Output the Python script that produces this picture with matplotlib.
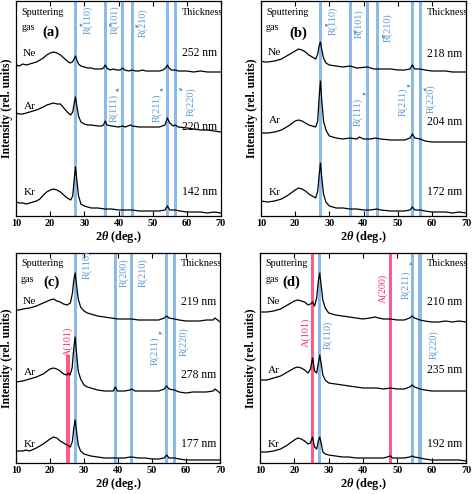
import matplotlib
matplotlib.use("Agg")
import matplotlib.pyplot as plt

plt.rcParams['font.family'] = ['Liberation Serif', 'DejaVu Serif']
plt.rcParams['mathtext.fontset'] = 'custom'
plt.rcParams['mathtext.it'] = 'Liberation Serif:italic:bold'
plt.rcParams['mathtext.rm'] = 'Liberation Serif:bold'

# peak positions (deg.)
R110, R101, R200, R111, R210, R211, R220 = 27.45, 36.1, 39.2, 41.25, 44.05, 54.3, 56.6
A101, A200 = 25.3, 48.05

gases = ["Ne", "Ar", "Kr"]
thick_a = ["252 nm", "220 nm", "142 nm"]
thick_b = ["218 nm", "204 nm", "172 nm"]
thick_c = ["219 nm", "278 nm", "177 nm"]
thick_d = ["210 nm", "235 nm", "192 nm"]

# curves: (2theta, intensity in offset units)
a_ne = [(10,151),(11,150),(12,152),(13,151),(14,152),(15,153),(16,154),(17,156),(18,158),(19,161),(20,163),(21,164),
        (22,163),(23,161),(24,158),(25,155),(25.8,153),(26.5,154),(27.0,157),(27.4,160),(27.8,156),(28.3,152),(29,150),
        (30,149),(31,148),(32,148),(33,147),(34,147),(35,147),(35.6,148),(36.1,151),(36.6,148),(37.5,146),(38.5,147),
        (39.5,146),(40.5,146),(41.2,148),(41.8,146),(43,145),(44,146),(45,145),(46,145),(47,146),(48,145),(50,145),
        (52,145),(53,146),(53.8,148),(54.3,151),(54.8,148),(55.5,146),(56.6,146),(57.5,145),(60,145),(62,144),
        (64,145),(66,144),(68,144),(70,144)]
a_ar = [(10,103),(11,102),(12,102),(13,103),(14,104),(16,106),(18,109),(19,111),(20,112),(21,113),(22,112),(23,112),
        (24,108),(25,104),(26,101),(26.6,104),(27.0,112),(27.4,119),(27.8,110),(28.3,100),(29,94),(30,92),(31,91),
        (32,91),(34,90),(35,90),(35.6,91),(36.1,95),(36.6,91),(38,90),(40,89),(41.2,90),(42,89),(43.5,91),(44,90),
        (46,89),(48,89),(50,89),(52,89),(53.6,91),(54.3,98),(55,93),(56,90),(56.6,91),(57.5,89),(60,88),(62,87),
        (64,86),(66,86),(68,85),(70,84)]
a_kr = [(10,14),(11,13),(12,13),(13,12),(14,13),(15,14),(16,15),(17,17),(18,21),(19,24),(20,26),(21,27),(22,26),
        (23,24),(24,21),(25,18),(26,16),(26.6,20),(27.0,35),(27.4,49),(27.8,36),(28.3,20),(29,12),(30,10),(31,9),
        (32,8),(34,8),(36,7),(38,7),(40,6),(42,6),(44,6),(46,5),(48,5),(50,5),(52,5),(53.6,6),(54.3,10),(55,6),
        (56.6,6),(58,5),(60,4),(62,4),(64,4),(66,3),(68,4),(70,3)]

b_ne = [(10,155),(11,154),(12,154),(14,155),(16,157),(18,161),(20,165),(21,167),(22,166),(23,164),(24,161),(25,159),
        (26,157),(26.6,162),(27.0,170),(27.4,174),(27.8,166),(28.3,158),(29,153),(30,151),(32,150),(34,149),(36.1,150),
        (38,148),(41.2,149),(43,147),(44,147),(46,147),(48,147),(50,146),(52,146),(53.6,147),(54.3,151),(55,147),
        (56.6,147),(58,146),(60,145),(62,145),(64,145),(66,144),(68,144),(70,144)]
b_ar = [(10,83),(12,83),(14,84),(16,86),(18,90),(20,95),(21,96),(22,95),(23,93),(24,91),(25,90),(26,89),(26.6,95),
        (27.0,118),(27.4,135),(27.8,115),(28.3,95),(29,86),(30,80),(31,79),(32,78),(34,77),(36,78),(38,77),(38.8,79),
        (40,77),(42,77),(43.5,78),(45,77),(48,76),(50,76),(52,76),(53.6,78),(54.3,82),(55,78),(56.6,77),(58,75),
        (60,74),(62,74),(64,74),(66,74),(68,74),(70,74)]
b_kr = [(10,15),(12,14),(14,15),(16,17),(18,21),(20,26),(21,28),(22,27),(23,25),(24,22),(25,20),(26,18),(26.6,25),
        (27.0,40),(27.4,53),(27.8,38),(28.3,22),(29,14),(30,10),(31,9),(32,8),(34,8),(36,7),(38,7),(40,6),(42,6),
        (44,7),(45,6),(48,5),(50,5),(52,5),(53.6,6),(54.3,9),(55,6),(56.6,6),(58,5),(60,4),(62,4),(64,4),(66,3),
        (68,4),(70,3)]

c_ne = [(10,153),(11,153),(12,154),(14,155),(16,157),(18,160),(20,163),(21,164),(22,162),(23,161),(24,159),(25,158),
        (26,160),(26.6,170),(27.0,183),(27.4,190),(27.8,178),(28.3,164),(29,156),(30,152),(31,150),(32,149),(34,147),
        (36,146),(38,145),(40,144),(42,144),(44,144),(46,143),(48,143),(50,143),(52,143),(53.6,145),(54.3,147),
        (55,145),(56.6,144),(58,143),(60,142),(62,142),(64,142),(66,143),(68,143),(68.5,145),(69.3,143),(70,141)]
c_ar = [(10,81),(12,82),(14,84),(16,86),(18,89),(20,94),(21,95),(22,94),(23,92),(24,89),(25,88),(25.3,90),(25.9,88),
        (26.5,95),(27.0,115),(27.4,126),(27.8,110),(28.3,92),(29,84),(30,78),(31,76),(32,75),(34,73),(36,72),(38.6,72),
        (39.2,76),(39.8,72),(42,72),(43.5,73),(44,74),(45,72),(48,72),(50,72),(52,72),(53.6,74),(54.3,77),(55,74),
        (56.6,73),(58,71),(60,70),(62,71),(64,71),(66,71),(68,72),(68.5,74),(69.3,72),(70,70)]
c_kr = [(10,12),(12,12),(13,13),(14,12),(16,15),(18,19),(20,24),(21,26),(22,25),(23,22),(24,20),(25,18),(26,16),
        (26.6,22),(27.0,35),(27.4,43),(27.8,32),(28.3,18),(29,12),(30,9),(32,7),(34,6),(36,5),(38,5),(40,5),(42,5),
        (43.5,6),(44,6),(46,5),(48,5),(50,4),(52,4),(53.6,5),(54.3,8),(55,5),(56.6,5),(58,4),(60,3),(62,3),(64,3),
        (66,3),(68,3),(70,3)]

d_ne = [(10,151),(12,151),(14,152),(16,154),(18,158),(20,162),(21,163),(22,162),(23,161),(24,158),(24.7,159),
        (25.3,161),(25.9,157),(26.5,165),(27.0,182),(27.4,190),(27.8,178),(28.3,163),(29,155),(30,150),(32,148),
        (34,147),(36,146),(38,145),(40,144),(42,145),(43.5,146),(44.5,145),(46,144),(48,144),(50,143),(52,143),
        (53.6,145),(54.3,147),(55,145),(56.6,143),(58,142),(60,141),(62,141),(64,142),(66,141),(68,142),(70,141)]
d_ar = [(10,83),(12,83),(14,85),(16,87),(18,91),(20,95),(21,96),(22,95),(23,93),(24,90),(24.7,94),(25.3,105),
        (25.9,92),(26.5,90),(27.0,100),(27.4,108),(27.8,100),(28.3,88),(29,83),(30,80),(32,79),(34,78),(36,77),
        (38,76),(40,75),(42,75),(44,75),(46,74),(48,75),(50,74),(52,74),(53.6,76),(54.3,78),(55,76),(56.6,74),
        (58,73),(60,72),(62,72),(64,72),(66,72),(68,72),(70,72)]
d_kr = [(10,11),(12,11),(14,12),(16,14),(18,18),(20,23),(21,25),(22,24),(23,22),(24,19),(24.7,20),(25.3,26),
        (25.9,16),(26.5,14),(27.0,22),(27.4,26),(27.8,20),(28.3,11),(29,9),(30,8),(32,7),(34,6),(36,6),(38,5),
        (40,5),(42,5),(44,5),(46,5),(48,7),(48.6,5),(50,5),(52,5),(53.6,6),(54.3,7),(55,6),(56.6,5),(58,4),
        (60,3),(62,3),(64,3),(66,3),(68,3),(70,2)]

BLUE_BAND = '#8cbbe8'
BLUE_TXT = '#5b9bd5'
PINK_BAND = '#ff5a8a'
PINK_TXT = '#ff2f72'

W, H = 472, 494
fig = plt.figure(figsize=(W / 100, H / 100), dpi=100)


def panel(rect, ylim, tag, curves, thick, bands, labels, gas_y, thick_y, tag_y):
    ax = fig.add_axes([rect[0] / W, 1 - rect[3] / H, (rect[2] - rect[0]) / W, (rect[3] - rect[1]) / H])
    for pos, col, top in bands:
        ax.axvspan(pos - 0.45, pos + 0.45, ymax=top, color=col, lw=0, zorder=1)
    for pts in curves:
        ax.plot([p[0] for p in pts], [p[1] for p in pts], color='black', lw=0.9, zorder=3)
    for txt, x, y, col, arr in labels:
        ax.text(x, y, txt, rotation=90, ha='center', va='center', color=col, fontsize=7.3, zorder=4)
        if arr is not None:
            ax.annotate('', xy=arr[1], xytext=arr[0], zorder=4,
                        arrowprops=dict(arrowstyle='-|>', color=col, lw=0.6, mutation_scale=4))
    for g, gy in zip(gases, gas_y):
        ax.text(14.0, gy, g, ha='center', va='center', fontsize=8.2)
    for t, ty in zip(thick, thick_y):
        ax.text(63.8, ty, t, ha='center', va='center', fontsize=8.4)
    ax.text(11.5, ylim - 11, 'Sputtering', ha='left', va='center', fontsize=7.3)
    ax.text(11.5, ylim - 26, 'gas', ha='left', va='center', fontsize=7.3)
    ax.text(70.6, ylim - 11, 'Thickness', ha='right', va='center', fontsize=7.3, clip_on=True)
    ax.text(tag[1], tag_y, tag[0], ha='center', va='center', fontsize=10.5, fontweight='bold')
    ax.set_xlim(10, 70)
    ax.set_ylim(0, ylim)
    ax.set_xticks(range(10, 71, 10))
    ax.set_yticks([])
    ax.tick_params(axis='x', direction='in', top=True, length=3.5, width=0.8, pad=2, labelsize=7.4)
    for lab in ax.get_xticklabels():
        lab.set_fontweight('bold')
    for s in ax.spines.values():
        s.set_linewidth(0.9)
    ax.set_xlabel(r'2$\theta$ (deg.)', fontsize=8.8, fontweight='bold', labelpad=1)
    ax.set_ylabel('Intensity (rel. units)', fontsize=8.5, fontweight='bold', labelpad=2)
    return ax


rut = [R110, R101, R111, R210, R211, R220]
panel((16, 1, 221, 216), 215, ('(a)', 20.3), [a_ne, a_ar, a_kr], thick_a,
      [(p, BLUE_BAND, 1) for p in rut],
      [('R(110)', 31.0, 196, BLUE_TXT, ((29.4, 189), (28.1, 195))),
       ('R(101)', 38.9, 196, BLUE_TXT, ((37.9, 189), (36.7, 195))),
       ('R(210)', 47.1, 193, BLUE_TXT, ((45.6, 188), (44.5, 194))),
       ('R(111)', 38.6, 108, BLUE_TXT, ((39.4, 125), (40.8, 129))),
       ('R(211)', 51.3, 108, BLUE_TXT, ((52.1, 125), (53.8, 129))),
       ('R(220)', 61.2, 114, BLUE_TXT, ((58.6, 125), (57.2, 130)))],
      [163, 110, 24], [163, 89, 24], 184)

panel((261, 1, 466, 216), 215, ('(b)', 21.0), [b_ne, b_ar, b_kr], thick_b,
      [(p, BLUE_BAND, 1) for p in rut],
      [('R(110)', 31.1, 195, BLUE_TXT, ((29.5, 189), (28.3, 195))),
       ('R(101)', 38.7, 192, BLUE_TXT, ((37.7, 183), (36.7, 188))),
       ('R(210)', 47.1, 188, BLUE_TXT, ((46.1, 178), (44.8, 183))),
       ('R(111)', 38.4, 104, BLUE_TXT, ((39.3, 123), (40.8, 121))),
       ('R(211)', 51.5, 114, BLUE_TXT, ((52.4, 131), (53.8, 129))),
       ('R(220)', 59.7, 117, BLUE_TXT, ((58.6, 124), (57.5, 128)))],
      [164, 96, 24], [162, 94, 24], 183)

panel((16, 253, 220, 463), 210, ('(c)', 20.4), [c_ne, c_ar, c_kr], thick_c,
      [(A101, PINK_BAND, 108 / 210)] + [(p, BLUE_BAND, 1) for p in [R110, R200, R210, R211, R220]],
      [('R(110)', 31.0, 198, BLUE_TXT, None),
       ('R(200)', 41.7, 190, BLUE_TXT, None),
       ('R(210)', 47.3, 190, BLUE_TXT, None),
       ('R(211)', 51.0, 112, BLUE_TXT, ((52.2, 130), (53.8, 128))),
       ('R(220)', 59.4, 121, BLUE_TXT, None),
       ('A(101)', 25.3, 122, PINK_TXT, None)],
      [161, 91, 19], [161, 88, 19], 181)

panel((260, 253, 466, 463), 210, ('(d)', 19.0), [d_ne, d_ar, d_kr], thick_d,
      [(A101, PINK_BAND, 1), (A200, PINK_BAND, 1)] + [(p, BLUE_BAND, 1) for p in [R110, R211, R220]],
      [('A(101)', 23.4, 131, PINK_TXT, None),
       ('R(110)', 29.8, 128, BLUE_TXT, None),
       ('A(200)', 45.9, 175, PINK_TXT, None),
       ('R(211)', 52.6, 178, BLUE_TXT, ((53.2, 200), (54.6, 198))),
       ('R(220)', 60.7, 118, BLUE_TXT, None)],
      [161, 93, 19], [161, 93, 19], 181)

fig.savefig('out.png', dpi=100)
